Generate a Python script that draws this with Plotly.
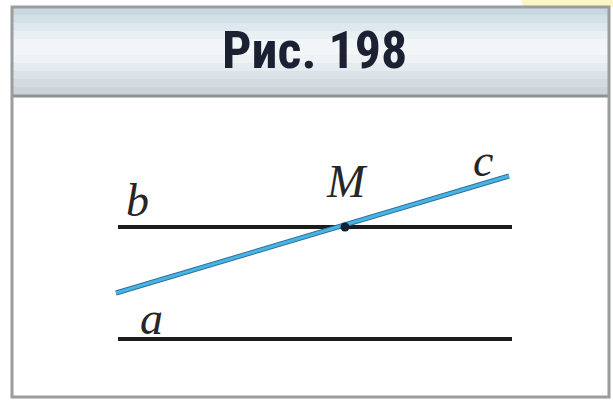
import plotly.graph_objects as go

# geometry of the drawing, in picture pixels (x right, y down)
line_b_x = [118, 512]
line_b_y = [227, 227]
line_a_x = [118, 512]
line_a_y = [339, 339]
line_c_x = [116, 509]
line_c_y = [293, 176]
point_m_x = [345]
point_m_y = [227]

label_text = ["b", "M", "c", "a"]
label_x = [137, 347, 483, 151]
label_y = [200, 181, 160, 318]

title_text = "Рис. 198"

W, H = 613, 400

fig = go.Figure()

fig.add_trace(go.Scatter(x=line_b_x, y=line_b_y, mode="lines",
                         line=dict(color="#1c1c1c", width=4), showlegend=False))
fig.add_trace(go.Scatter(x=line_a_x, y=line_a_y, mode="lines",
                         line=dict(color="#1c1c1c", width=4), showlegend=False))
fig.add_trace(go.Scatter(x=line_c_x, y=line_c_y, mode="lines",
                         line=dict(color="#2f6f95", width=5), showlegend=False))
fig.add_trace(go.Scatter(x=line_c_x, y=line_c_y, mode="lines",
                         line=dict(color="#46b4e6", width=3), showlegend=False))
fig.add_trace(go.Scatter(x=point_m_x, y=point_m_y, mode="markers",
                         marker=dict(color="#0f2236", size=9), showlegend=False))

for t, x, y in zip(label_text, label_x, label_y):
    fig.add_annotation(x=x, y=y, text=t, showarrow=False,
                       font=dict(family="Liberation Serif", size=46, color="#262626", style="italic"))

shapes = []
# header gradient (top -> bottom)
grad = ["#c8d7e0", "#d3e0e8", "#dfe8ee", "#e9f0f4", "#f1f5f8", "#f3f6f9",
        "#eef2f5", "#e5ebef", "#dce3e8", "#d3dbe0", "#ccd4d9"]
top, bot = 7, 95
step = (bot - top) / len(grad)
for i, c in enumerate(grad):
    shapes.append(dict(type="rect", xref="paper", yref="paper",
                       x0=12 / W, x1=609 / W,
                       y0=1 - (top + i * step) / H, y1=1 - (top + (i + 1) * step + 0.5) / H,
                       fillcolor=c, line=dict(width=0), layer="below"))
# yellow note corner
shapes.append(dict(type="rect", xref="paper", yref="paper", x0=522 / W, x1=1,
                   y0=1 - 7 / H, y1=1, fillcolor="#fcf5c4", line=dict(width=0)))
# header bottom rule
shapes.append(dict(type="line", xref="paper", yref="paper", x0=12 / W, x1=609 / W,
                   y0=1 - 96 / H, y1=1 - 96 / H, line=dict(color="#8c9296", width=3)))
# outer frame
shapes.append(dict(type="rect", xref="paper", yref="paper", x0=12 / W, x1=609 / W,
                   y0=1 - 397 / H, y1=1 - 7 / H, line=dict(color="#9a9c9e", width=3)))
fig.update_layout(shapes=shapes)

fig.add_annotation(x=314 / W, y=1 - 51 / H, xref="paper", yref="paper", text=title_text,
                   showarrow=False, xanchor="center", yanchor="middle",
                   font=dict(family="Roboto Condensed, Liberation Sans", size=52,
                             color="#1b2133", weight="bold"))

fig.update_xaxes(range=[0, W], visible=False, fixedrange=True)
fig.update_yaxes(range=[H, 0], visible=False, fixedrange=True)
fig.update_layout(width=W, height=H, margin=dict(l=0, r=0, t=0, b=0),
                  paper_bgcolor="white", plot_bgcolor="white")

fig.write_html("out.html", config={"displayModeBar": False},
               post_script="document.body.style.margin='0';")
